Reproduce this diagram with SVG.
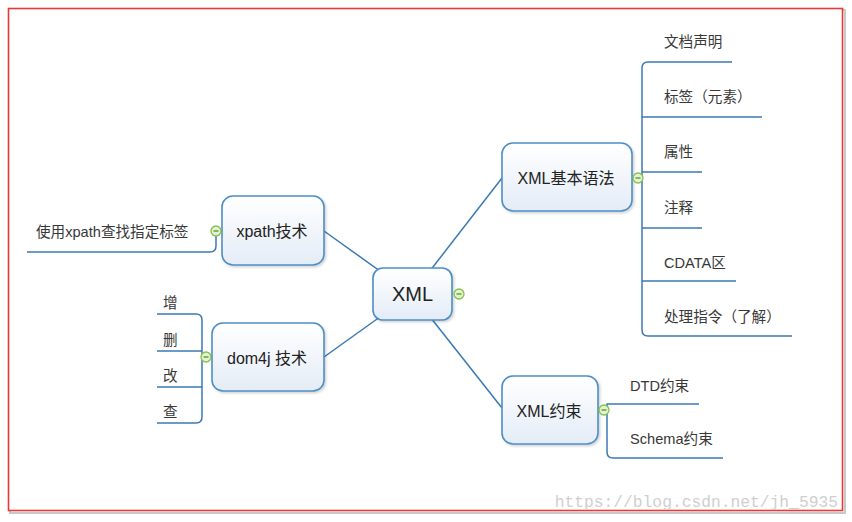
<svg xmlns="http://www.w3.org/2000/svg" width="852" height="522" viewBox="0 0 852 522">
<defs>
<linearGradient id="ng" x1="0" y1="0" x2="0" y2="1">
<stop offset="0" stop-color="#ffffff"/>
<stop offset="1" stop-color="#e4ecf7"/>
</linearGradient>
<filter id="sh" x="-10%" y="-10%" width="130%" height="130%">
<feDropShadow dx="1.5" dy="1.5" stdDeviation="1.2" flood-color="#000" flood-opacity="0.18"/>
</filter>
<g id="minus">
<circle r="5" fill="#e2f3cf" stroke="#86bf4e" stroke-width="1.3"/>
<line x1="-2.5" y1="0" x2="2.5" y2="0" stroke="#5e8f30" stroke-width="1.3"/>
</g>
</defs>
<style>
.node{fill:url(#ng);stroke:#4e8ec6;stroke-width:1.6;filter:url(#sh)}
.ln{fill:none;stroke:#3a79b3;stroke-width:1.5}
.t{font-family:"Liberation Sans","Noto Sans CJK SC",sans-serif;fill:#222}
.nt{font-size:16px;text-anchor:middle}
.lt{font-size:14.6px;fill:#383838}
</style>
<rect x="0" y="0" width="852" height="522" fill="#ffffff"/>
<rect x="10" y="10" width="835" height="503" fill="none" stroke="#c8c8c8" stroke-width="2"/>
<rect x="8.5" y="8.5" width="834" height="502" fill="#ffffff" stroke="#e83838" stroke-width="1.6"/>

<g id="connectors">
<line class="ln" x1="412" y1="294" x2="502" y2="178"/>
<line class="ln" x1="412" y1="294" x2="324" y2="231"/>
<line class="ln" x1="412" y1="294" x2="324" y2="357"/>
<line class="ln" x1="412" y1="294" x2="502" y2="408"/>
<line class="ln" x1="632" y1="178" x2="642" y2="178"/>
<path class="ln" d="M732 62 H648 Q642 62 642 68 V330 Q642 336 648 336 H792"/>
<line class="ln" x1="642" y1="117" x2="762" y2="117"/>
<line class="ln" x1="642" y1="172" x2="702" y2="172"/>
<line class="ln" x1="642" y1="228" x2="702" y2="228"/>
<line class="ln" x1="642" y1="281" x2="736" y2="281"/>
<line class="ln" x1="598" y1="410" x2="607" y2="410"/>
<path class="ln" d="M699 404 H607 V452 Q607 458 613 458 H723"/>
<path class="ln" d="M222 231 H216 V246 Q216 252 210 252 H27"/>
<line class="ln" x1="212" y1="357" x2="202" y2="357"/>
<path class="ln" d="M157 314 H196 Q202 314 202 320 V417 Q202 423 196 423 H157"/>
<line class="ln" x1="157" y1="351" x2="202" y2="351"/>
<line class="ln" x1="157" y1="387" x2="202" y2="387"/>
</g>

<g id="node-xml">
<rect class="node" x="373" y="268" width="79" height="52" rx="10"/>
<text class="t" x="412.5" y="301" font-size="20" text-anchor="middle">XML</text>
<use href="#minus" x="459" y="294"/>
</g>

<g id="node-syntax">
<rect class="node" x="502" y="143" width="130" height="68" rx="11"/>
<text class="t nt" x="566" y="184">XML基本语法</text>
<use href="#minus" x="638" y="178"/>
</g>

<g id="node-constraint">
<rect class="node" x="502" y="376" width="96" height="68" rx="11"/>
<text class="t nt" x="549" y="417">XML约束</text>
<use href="#minus" x="604" y="410"/>
</g>

<g id="node-xpath">
<rect class="node" x="222" y="196" width="102" height="69" rx="11"/>
<text class="t nt" x="272" y="237">xpath技术</text>
<use href="#minus" x="216" y="231"/>
</g>

<g id="node-dom4j">
<rect class="node" x="212" y="323" width="112" height="68" rx="11"/>
<text class="t nt" x="267" y="364">dom4j 技术</text>
<use href="#minus" x="206" y="357"/>
</g>

<g id="leaf-1"><text class="t lt" x="664" y="47">文档声明</text></g>
<g id="leaf-2"><text class="t lt" x="664" y="102">标签（元素）</text></g>
<g id="leaf-3"><text class="t lt" x="664" y="157">属性</text></g>
<g id="leaf-4"><text class="t lt" x="664" y="213">注释</text></g>
<g id="leaf-5"><text class="t lt" x="664" y="268">CDATA区</text></g>
<g id="leaf-6"><text class="t lt" x="664" y="322">处理指令（了解）</text></g>
<g id="leaf-dtd"><text class="t lt" x="630" y="391">DTD约束</text></g>
<g id="leaf-schema"><text class="t lt" x="630" y="444">Schema约束</text></g>
<g id="leaf-xpath"><text class="t lt" x="36" y="237">使用xpath查找指定标签</text></g>
<g id="leaf-add"><text class="t lt" x="163" y="308">增</text></g>
<g id="leaf-del"><text class="t lt" x="163" y="345">删</text></g>
<g id="leaf-mod"><text class="t lt" x="163" y="381">改</text></g>
<g id="leaf-query"><text class="t lt" x="163" y="417">查</text></g>

<text x="838" y="507" font-family="'Liberation Mono',monospace" font-size="16.3" fill="#cfcfcf" text-anchor="end">https://blog.csdn.net/jh_5935</text>
</svg>
